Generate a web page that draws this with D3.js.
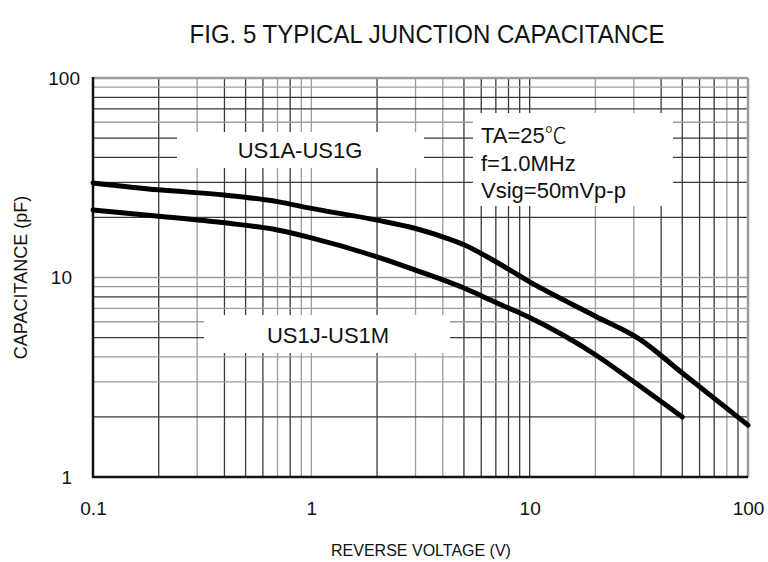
<!DOCTYPE html>
<html>
<head>
<meta charset="utf-8">
<script src="https://cdn.jsdelivr.net/npm/d3@7"></script>
<style>
  body { margin: 0; background: #fff; }
  text { font-family: Arial, "Liberation Sans", sans-serif; fill: #111; }
</style>
</head>
<body>
<div id="chart"></div>
<script>
// data (voltage V, capacitance pF)
const voltage = [0.1, 0.2, 0.4, 0.7, 1, 2, 3, 4, 5, 7, 10, 20, 32, 50, 100]
const capUS1A = [29.8, 27.5, 25.9, 24, 22.2, 19.4, 17.6, 16, 14.6, 12, 9.5, 6.4, 4.9, 3.32, 1.82]
const voltageLow = [0.1, 0.2, 0.4, 0.7, 1, 2, 3, 5, 7, 10, 20, 30, 40, 50]
const capUS1J = [21.8, 20.3, 18.8, 17.3, 15.8, 12.7, 10.9, 8.86, 7.5, 6.3, 4.1, 3.0, 2.39, 2.0]

const xTicks = [0.1, 1, 10, 100]
const yTicks = [1, 10, 100]
const seriesNames = ["US1A-US1G", "US1J-US1M"]
const condLines = ["TA=25", "f=1.0MHz", "Vsig=50mVp-p"]

// minor grid lines drawn in light grey (rest are dark), as in the scan
const greyX = [0.3, 0.7, 0.9, 1, 3, 4, 20, 30, 80]
const greyY = [90, 60, 10, 9, 7, 6, 4, 3]

const width = 768
const height = 562
const marginLeft = 93
const marginRight = 20
const marginTop = 78
const marginBottom = 85

const svg = d3.select("#chart").append("svg")
    .attr("width", width)
    .attr("height", height)

const x = d3.scaleLog([0.1, 100], [marginLeft, width - marginRight])
const y = d3.scaleLog([1, 100], [height - marginBottom, marginTop])

// grid values: 2..9 in every decade
const gridX = []
for (const d of [0.1, 1, 10]) for (let k = 2; k <= 10; k++) gridX.push(+(d * k).toPrecision(3))
const gridY = []
for (const d of [1, 10]) for (let k = 2; k <= 10; k++) gridY.push(+(d * k).toPrecision(3))

const gridColor = (v, grey) => grey.includes(v) ? "#9c9c9c" : "#3a3a3a"

const grid = svg.append("g").attr("stroke-width", 1.3)
grid.selectAll("line.v")
    .data(gridX.filter(v => v < 100))
    .join("line")
    .attr("x1", d => x(d)).attr("x2", d => x(d))
    .attr("y1", y(100)).attr("y2", y(1))
    .attr("stroke", d => gridColor(d, greyX))
grid.selectAll("line.h")
    .data(gridY.filter(v => v < 100))
    .join("line")
    .attr("x1", x(0.1)).attr("x2", x(100))
    .attr("y1", d => y(d)).attr("y2", d => y(d))
    .attr("stroke", d => gridColor(d, greyY))

// frame: dark left/bottom, grey top/right
svg.append("line").attr("x1", x(0.1)).attr("x2", x(100)).attr("y1", y(100)).attr("y2", y(100))
    .attr("stroke", "#9c9c9c").attr("stroke-width", 2.5)
svg.append("line").attr("x1", x(100)).attr("x2", x(100)).attr("y1", y(100)).attr("y2", y(1))
    .attr("stroke", "#9c9c9c").attr("stroke-width", 2.5)
svg.append("line").attr("x1", x(0.1)).attr("x2", x(0.1)).attr("y1", y(100) - 1).attr("y2", y(1) + 1)
    .attr("stroke", "#111").attr("stroke-width", 2.5)
svg.append("line").attr("x1", x(0.1) - 1).attr("x2", x(100)).attr("y1", y(1)).attr("y2", y(1))
    .attr("stroke", "#111").attr("stroke-width", 2.5)

// white label boxes that break the grid
const boxes = [
    [177, 132, 247, 36],
    [473, 113, 200, 93],
    [204, 315, 246, 38]
]
svg.append("g").selectAll("rect")
    .data(boxes)
    .join("rect")
    .attr("x", d => d[0]).attr("y", d => d[1])
    .attr("width", d => d[2]).attr("height", d => d[3])
    .attr("fill", "#fff")

// curves
const line = d3.line()
    .x(d => x(d[0]))
    .y(d => y(d[1]))
    .curve(d3.curveMonotoneX)

svg.append("path")
    .datum(d3.zip(voltage, capUS1A))
    .attr("d", line)
    .attr("fill", "none").attr("stroke", "#000")
    .attr("stroke-width", 5).attr("stroke-linecap", "round")
svg.append("path")
    .datum(d3.zip(voltageLow, capUS1J))
    .attr("d", line)
    .attr("fill", "none").attr("stroke", "#000")
    .attr("stroke-width", 5).attr("stroke-linecap", "round")

// axes (labels only, the grid is drawn above)
const xAxis = d3.axisBottom(x).tickValues(xTicks).tickSize(0).tickPadding(0).tickFormat(d => d3.format("")(d))
const yAxis = d3.axisLeft(y).tickValues(yTicks).tickSize(0).tickPadding(0).tickFormat(d => d3.format("")(d))

svg.append("g")
    .attr("transform", `translate(0,${y(1) + 24})`)
    .call(xAxis)
    .call(g => g.select(".domain").remove())
    .selectAll("text")
    .style("font-size", "19px")
    .attr("fill", "#111")

svg.append("g")
    .attr("transform", `translate(${x(0.1) - 21},0)`)
    .call(yAxis)
    .call(g => g.select(".domain").remove())
    .selectAll("text")
    .style("font-size", "19px")
    .attr("fill", "#111")
    .attr("dx", d => d === 100 ? 8 : 0)

// texts
svg.append("text")
    .attr("x", 427).attr("y", 43)
    .attr("text-anchor", "middle")
    .attr("textLength", 475).attr("lengthAdjust", "spacingAndGlyphs")
    .style("font-size", "25px")
    .text("FIG. 5 TYPICAL JUNCTION CAPACITANCE")

svg.append("text")
    .attr("x", 421).attr("y", 556)
    .attr("text-anchor", "middle")
    .style("font-size", "16px")
    .text("REVERSE VOLTAGE (V)")

svg.append("text")
    .attr("transform", `translate(27,${y(10)}) rotate(-90)`)
    .attr("text-anchor", "middle")
    .style("font-size", "18px")
    .text("CAPACITANCE (pF)")

svg.append("text")
    .attr("x", 300).attr("y", 158)
    .attr("text-anchor", "middle")
    .style("font-size", "22px")
    .text(seriesNames[0])

svg.append("text")
    .attr("x", 328).attr("y", 343)
    .attr("text-anchor", "middle")
    .style("font-size", "22px")
    .text(seriesNames[1])

const cond = svg.append("g").selectAll("text")
    .data(condLines)
    .join("text")
    .attr("x", 481)
    .attr("y", (d, i) => 143 + i * 27.5)
    .style("font-size", "22px")
    .text(d => d)
// thin CJK degree sign after the temperature
cond.filter((d, i) => i === 0)
    .append("tspan")
    .style("font-family", "'Noto Sans CJK SC'")
    .style("font-weight", 300)
    .text("\u2103")
</script>
</body>
</html>
